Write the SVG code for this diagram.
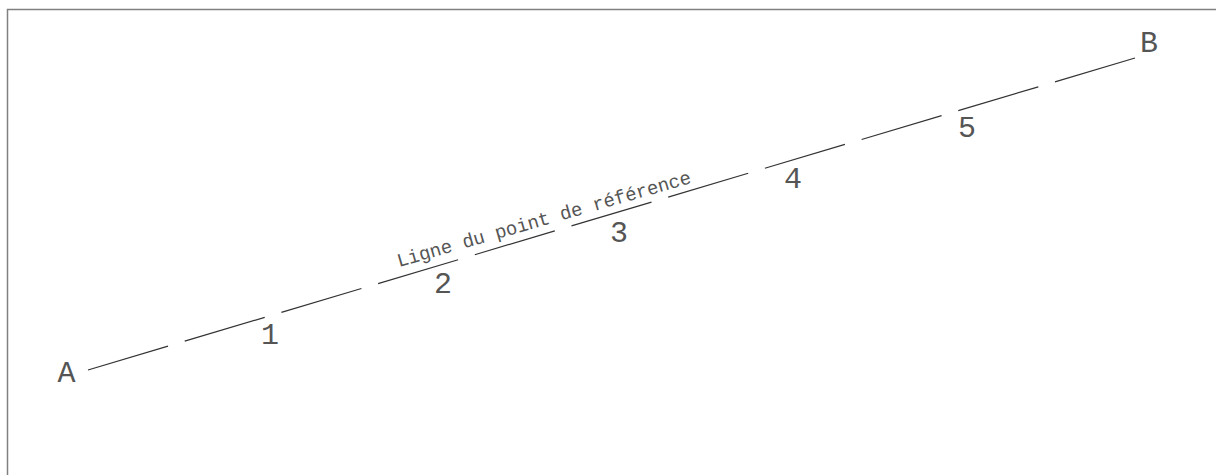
<svg xmlns="http://www.w3.org/2000/svg" width="1216" height="475" viewBox="0 0 1216 475">
<style>
.bg{fill:#fff}
.frame{fill:none;stroke:#808080;stroke-width:1.5}
.ref{fill:none;stroke:#333;stroke-width:1.2;stroke-dasharray:83.5 17.4}
.pt{font-family:"Liberation Mono","DejaVu Sans Mono",monospace;font-size:30px;fill:#555;text-anchor:middle}
.lbl{font-family:"Liberation Mono","DejaVu Sans Mono",monospace;font-size:19px;fill:#555}
</style>
<rect class="bg" x="0" y="0" width="1216" height="475"/>
<polyline class="frame" points="7.5,475 7.5,9.5 1216,9.5"/>
<g id="connectors">
<line class="ref" x1="88" y1="370" x2="1135" y2="58"/>
</g>
<g id="nodeA"><text class="pt" x="66.5" y="382">A</text></g>
<g id="nodeB"><text class="pt" x="1149" y="52">B</text></g>
<g id="node1"><text class="pt" x="270" y="344">1</text></g>
<g id="node2"><text class="pt" x="443" y="293">2</text></g>
<g id="node3"><text class="pt" x="619" y="242">3</text></g>
<g id="node4"><text class="pt" x="793" y="188">4</text></g>
<g id="node5"><text class="pt" x="967" y="137">5</text></g>
<g id="label"><text class="lbl" x="399" y="267" transform="rotate(-16 399 267)" textLength="305" lengthAdjust="spacing">Ligne du point de référence</text></g>
</svg>
